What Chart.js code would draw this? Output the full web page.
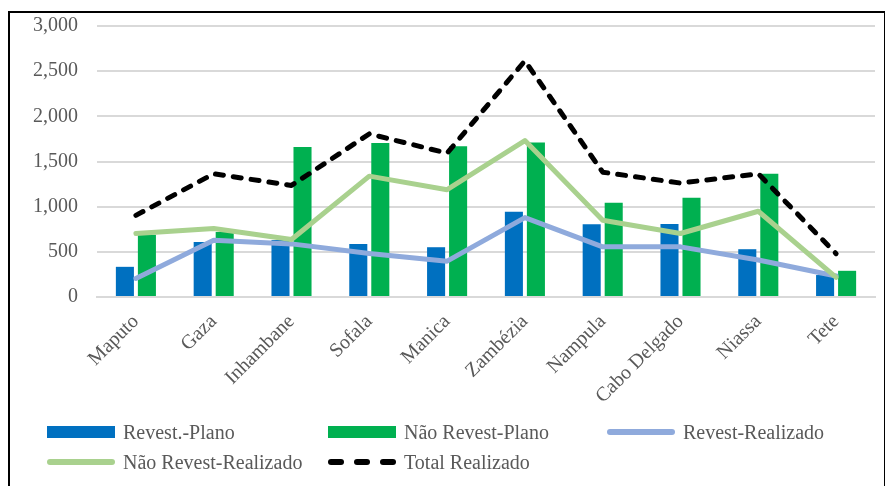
<!DOCTYPE html>
<html>
<head>
<meta charset="utf-8">
<script src="https://cdn.jsdelivr.net/npm/chart.js@4"></script>
<style>
body { margin: 0; background: #fff; width: 885px; height: 486px; overflow: hidden; position: relative;
  font-family: "Liberation Serif", "Times New Roman", serif; }
#frame { position: absolute; left: 8px; top: 11px; width: 874px; height: 500px; border: 2px solid #000; }
#wrap { position: absolute; left: 0; top: -5px; width: 885px; height: 420px; }
#legend { position: absolute; left: 0; top: 0; width: 885px; height: 486px; }
.item { position: absolute; display: flex; align-items: center; height: 24px; font-size: 20px; color: #595959; white-space: nowrap; }
.sample { width: 68px; margin-right: 8px; display: flex; align-items: center; justify-content: space-between; }
</style>
</head>
<body>
<div id="frame"></div>
<div id="wrap"><canvas id="chart" width="885" height="420"></canvas></div>
<div id="legend"></div>
<script>
const categories = ['Maputo', 'Gaza', 'Inhambane', 'Sofala', 'Manica', 'Zambézia', 'Nampula', 'Cabo Delgado', 'Niassa', 'Tete'];
const revestPlano = [334, 610, 630, 588, 551, 945, 805, 809, 529, 243];
const naoRevestPlano = [690, 720, 1660, 1706, 1669, 1710, 1044, 1100, 1364, 290];
const revestRealizado = [206, 629, 588, 482, 397, 879, 555, 555, 410, 232];
const naoRevestRealizado = [703, 758, 636, 1338, 1188, 1732, 849, 703, 949, 217];
const totalRealizado = [904, 1364, 1235, 1806, 1592, 2614, 1382, 1261, 1364, 480];
const yTicks = [0, 500, 1000, 1500, 2000, 2500, 3000];

const textColor = '#595959';
const font = { family: '"Liberation Serif", "Times New Roman", serif', size: 20 };

const ctx = document.getElementById('chart').getContext('2d');

const chart = new Chart(ctx, {
    data: {
    labels: categories,
    datasets: [
        {
        type: 'bar', label: 'Revest.-Plano', data: revestPlano,
        backgroundColor: '#0070c0', order: 4,
        categoryPercentage: 0.566, barPercentage: 0.82
        },
        {
        type: 'bar', label: 'Não Revest-Plano', data: naoRevestPlano,
        backgroundColor: '#00b050', order: 5,
        categoryPercentage: 0.566, barPercentage: 0.82
        },
        {
        type: 'line', label: 'Revest-Realizado', data: revestRealizado,
        borderColor: '#8faadc', borderWidth: 5, pointRadius: 0, tension: 0,
        borderCapStyle: 'round', borderJoinStyle: 'round', order: 3
        },
        {
        type: 'line', label: 'Não Revest-Realizado', data: naoRevestRealizado,
        borderColor: '#a9d18e', borderWidth: 5, pointRadius: 0, tension: 0,
        borderCapStyle: 'round', borderJoinStyle: 'round', order: 2
        },
        {
        type: 'line', label: 'Total Realizado', data: totalRealizado,
        borderColor: '#000000', borderWidth: 5, pointRadius: 0, tension: 0,
        borderDash: [8, 10], borderCapStyle: 'round', borderJoinStyle: 'round', order: 1
        }
    ]
    },
    options: {
    responsive: false,
    animation: false,
    layout: { padding: { left: 10, right: 10, top: 20, bottom: 0 } },
    plugins: {
        legend: { display: false },
        tooltip: { enabled: false }
    },
    scales: {
        x: {
        grid: { display: false, drawTicks: false },
        border: { display: true, color: '#d9d9d9', width: 2 },
        ticks: { color: textColor, font: font, minRotation: 45, maxRotation: 45, padding: 13 },
        afterFit: (scale) => { scale.height = 118; }
        },
        y: {
        min: 0, max: 3000,
        afterBuildTicks: (scale) => { scale.ticks = yTicks.map(v => ({ value: v })); },
        grid: { color: '#d9d9d9', lineWidth: 2, drawTicks: false },
        border: { display: false },
        ticks: {
            color: textColor, font: font, padding: 19,
            callback: (v) => v.toLocaleString('en-US')
        },
        afterFit: (scale) => { scale.width = 87; }
        }
    }
    }
});

// legend in the fixed grid the original uses
const legendPos = [[47, 420], [328, 420], [607, 420], [47, 450], [328, 450]];
const legend = document.getElementById('legend');
chart.data.datasets.forEach((ds, i) => {
    const item = document.createElement('div');
    item.className = 'item';
    item.style.left = legendPos[i][0] + 'px';
    item.style.top = legendPos[i][1] + 'px';
    const sample = document.createElement('div');
    sample.className = 'sample';
    if (ds.type === 'bar') {
        sample.innerHTML = '<div style="width:68px;height:12px;background:' + ds.backgroundColor + '"></div>';
    } else if (ds.borderDash) {
        let s = '';
        for (let k = 0; k < 3; k++) s += '<div style="width:16px;height:6px;border-radius:3px;background:' + ds.borderColor + '"></div>';
        sample.innerHTML = s;
    } else {
        sample.innerHTML = '<div style="width:68px;height:6px;border-radius:3px;background:' + ds.borderColor + '"></div>';
    }
    item.appendChild(sample);
    const label = document.createElement('span');
    label.textContent = ds.label;
    item.appendChild(label);
    legend.appendChild(item);
});
</script>
</body>
</html>
